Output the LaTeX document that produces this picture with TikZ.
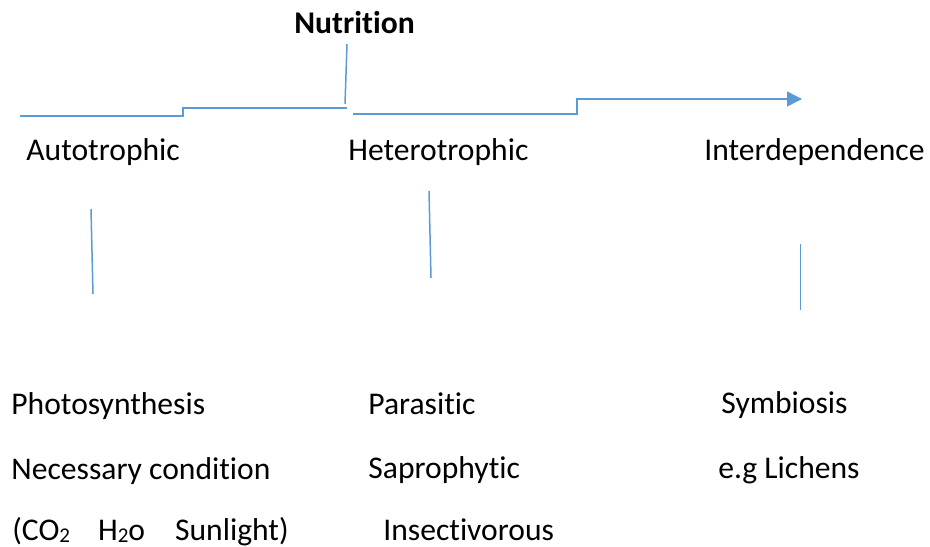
\documentclass[tikz,border=0pt]{standalone}
\usepackage{fontspec}
\setmainfont{Carlito}[Ligatures=NoCommon]
\usetikzlibrary{arrows.meta}
\definecolor{linkblue}{HTML}{5B9BD5}
\newcommand{\lowtwo}{\raisebox{-1pt}{\fontsize{10.5}{12}\selectfont 2}}
\begin{document}
\begin{tikzpicture}[
  x=0.5pt, y=-0.5pt,
  lbl/.style={anchor=base west, inner sep=0pt, font=\fontsize{15.8}{18}\selectfont},
  link/.style={draw=linkblue, line width=0.75pt}
]
\useasboundingbox (0,0) rectangle (930,546);
% title and the three branches
\node[lbl, font=\fontsize{15.8}{18}\selectfont\bfseries] (nutrition) at (294,33) {Nutrition};
\node[lbl] (auto) at (26,160) {Autotrophic};
\node[lbl] (hetero) at (348,160) {Heterotrophic};
\node[lbl] (inter) at (704,160) {Interdependence};
% lower lists
\node[lbl] (photo) at (11,414) {Photosynthesis};
\node[lbl] (cond) at (11,479) {Necessary condition};
\node[lbl] (needs) at (12,540) {(CO\lowtwo\hspace{14pt}H\lowtwo o\hspace{15pt}Sunlight)};
\node[lbl] (para) at (368,414) {Parasitic};
\node[lbl] (sapro) at (368,478) {Saprophytic};
\node[lbl] (insect) at (383,540) {Insectivorous};
\node[lbl] (symb) at (721,413) {Symbiosis};
\node[lbl] (lichen) at (718,478) {e.g Lichens};
% line ends
\coordinate (stemtop) at (347,44);
\coordinate (stembot) at (345,104);
\coordinate (leftend) at (20,116);
\coordinate (leftjoin) at (347,108);
\coordinate (rightstart) at (353,114);
\coordinate (arrowtip) at (802,99);
\coordinate (autotop) at (91,209);
\coordinate (autobot) at (93,294);
\coordinate (hetertop) at (429,191);
\coordinate (heterbot) at (431,278);
\coordinate (intertop) at (800.5,244);
\coordinate (interbot) at (800.5,310);
\draw[link] (stemtop) -- (stembot);
\draw[link] (leftend) -- ++(163,0) |- (leftjoin);
\draw[link, -{Triangle[length=7.5pt,width=7.5pt]}] (rightstart) -- ++(224,0) |- (arrowtip);
\draw[link] (autotop) -- (autobot);
\draw[link] (hetertop) -- (heterbot);
\draw[link] (intertop) -- (interbot);
\end{tikzpicture}
\end{document}
